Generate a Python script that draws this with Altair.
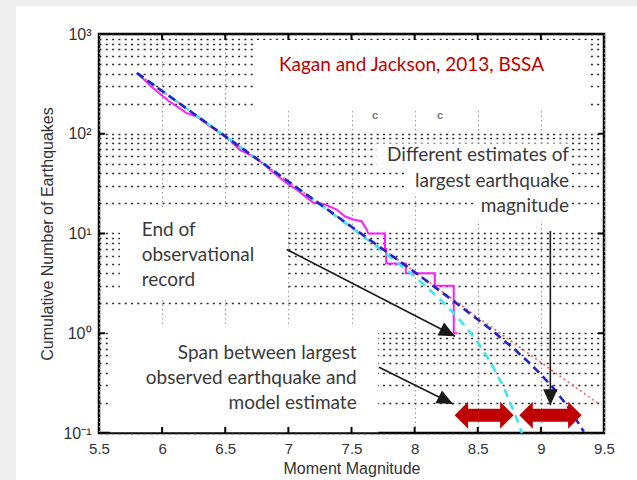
import altair as alt
import pandas as pd

# ---------------- data ----------------
# observed cumulative number of earthquakes (magenta step curve)
obs_mag = [5.80, 5.93, 6.05, 6.195, 6.274, 6.36, 6.458, 6.54, 6.617, 6.722,
           6.80, 6.90, 6.987, 7.066, 7.197, 7.29, 7.383, 7.45, 7.514, 7.58,
           7.62, 7.633, 7.765, 7.765, 7.775, 7.775, 7.93, 7.93, 8.16, 8.16,
           8.31, 8.31, 8.34]
obs_num = [407, 286, 214, 161, 149, 123, 102, 85, 69, 59,
           50, 39, 32, 27.5, 20.3, 19.5, 17.4, 14.8, 13.8, 13.3,
           11, 10, 10, 7, 7, 5, 5, 4, 4, 3,
           3, 1, 1]

# plain Gutenberg-Richter (red dotted)
gr_mag = [5.8, 6.5, 7.0, 7.5, 8.0, 8.5, 9.0, 9.46]
gr_num = [407, 94.4, 33.2, 11.7, 4.12, 1.45, 0.51, 0.195]

# tapered GR, high corner (blue dashed)
blue_mag = [5.8, 6.5, 7.0, 7.5, 8.0, 8.3, 8.6, 8.8, 8.9, 9.0, 9.1, 9.2, 9.25, 9.34]
blue_num = [407, 94.4, 33.2, 11.7, 4.11, 2.14, 1.10, 0.674, 0.516, 0.387, 0.281, 0.194, 0.157, 0.103]

# tapered GR, low corner (cyan dashed)
cyan_mag = [5.8, 6.5, 7.0, 7.5, 7.8, 8.0, 8.2, 8.3, 8.4, 8.5, 8.6, 8.7, 8.8, 8.85]
cyan_num = [407, 94.4, 33.2, 11.5, 5.93, 3.72, 2.20, 1.64, 1.18, 0.81, 0.515, 0.298, 0.149, 0.100]

# axes
x_ticks = [5.5, 6.0, 6.5, 7.0, 7.5, 8.0, 8.5, 9.0, 9.5]
y_major = [0.1, 1, 10, 100, 1000]
y_grid = [round(m * 10 ** k, 6) for k in (-1, 0, 1, 2) for m in range(1, 10)] + [1000]

# black annotation arrows (start -> tip), in data units
arrow_m0 = [6.987, 7.718, 9.075]
arrow_n0 = [6.92, 0.457, 10.6]
arrow_m1 = [8.32, 8.304, 9.075]
arrow_n1 = [0.933, 0.195, 0.19]
arrow_angle = [27, 27, 90]

# red double arrows (span between estimates)
span_left = [8.317, 8.829]
span_right = [8.784, 9.323]
span_level = 0.151

# white boxes behind the slide's text boxes
mask_m0 = [6.751, 7.700, 7.916, 8.470, 5.666, 5.587]
mask_m1 = [9.389, 9.239, 9.239, 9.239, 6.973, 7.710]
mask_n0 = [871, 80.0, 45.7, 25.1, 18.2, 1.148]
mask_n1 = [174, 45.7, 25.1, 13.6, 2.19, 0.102]

title_text = ["Kagan and Jackson, 2013, BSSA"]
diff_text = ["Different estimates of", "largest earthquake", "magnitude"]
diff_n = [52.8, 29.0, 16.5]
end_text = ["End of", "observational", "record"]
end_n = [9.40, 5.28, 2.97]
span_text = ["Span between largest", "observed earthquake and", "model estimate"]
span_n = [0.55, 0.309, 0.174]

# ---------------- chart ----------------
W, H = 505, 399
xscale = alt.Scale(domain=[5.5, 9.5], nice=False, zero=False)
yscale = alt.Scale(type="log", domain=[0.1, 1000], nice=False)

label_expr = ("datum.value == 1000 ? '10³' : datum.value == 100 ? '10²' : "
              "datum.value == 10 ? '10¹' : datum.value == 1 ? '10⁰' : "
              "abs(datum.value - 0.1) < 1e-9 ? '10⁻¹' : ''")

xaxis = alt.Axis(values=x_ticks, format=".1~f", grid=True, gridColor="#9a9a9a",
                 gridDash=[1.5, 3], gridWidth=1, ticks=False, domain=False,
                 labelFont="Liberation Sans", labelFontSize=15, labelColor="#333",
                 labelPadding=8, title="Moment Magnitude", titleFont="Liberation Sans",
                 titleFontSize=16, titleFontWeight="normal", titleColor="#333",
                 titlePadding=4, labelFlush=False)
yaxis = alt.Axis(values=y_grid, labelExpr=label_expr, grid=True, gridColor="#2a2a2a",
                 gridDash=[2, 4.3], gridWidth=1.6, ticks=False, domain=False,
                 labelFont="Liberation Sans", labelFontSize=16, labelColor="#333",
                 labelPadding=8, labelOverlap=False, labelFlush=False,
                 title="Cumulative Number of Earthquakes", titleFont="Liberation Sans",
                 titleFontSize=16, titleFontWeight="normal", titleColor="#333",
                 titlePadding=7)


def X(f):
    return alt.X(f, type="quantitative", scale=xscale, axis=xaxis)


def Y(f):
    return alt.Y(f, type="quantitative", scale=yscale, axis=yaxis)


def curve(ms, ns):
    return pd.DataFrame({"m": ms, "n": ns, "i": list(range(len(ms)))})


# slide border (gray around the white panel)
border = pd.DataFrame({"k": [0]})
gray = "#efefef"
b_left = alt.Chart(border).mark_rect(color=gray).encode(
    x=alt.value(-99), x2=alt.value(-83), y=alt.value(-34), y2=alt.value(446))
b_top = alt.Chart(border).mark_rect(color=gray).encode(
    x=alt.value(-99), x2=alt.value(538), y=alt.value(-34), y2=alt.value(-28))

masks = alt.Chart(pd.DataFrame({"m": mask_m0, "m1": mask_m1, "n": mask_n0, "n1": mask_n1})
                  ).mark_rect(color="white").encode(x=X("m"), x2="m1", y=Y("n"), y2="n1")

obs = alt.Chart(curve(obs_mag, obs_num)).mark_line(color="#ff1eff", strokeWidth=2).encode(
    x=X("m"), y=Y("n"), order="i:Q")
red = alt.Chart(curve(gr_mag, gr_num)).mark_line(color="#f07070", strokeWidth=1.8,
                                                 strokeDash=[2, 3]).encode(
    x=X("m"), y=Y("n"), order="i:Q")
cyan = alt.Chart(curve(cyan_mag, cyan_num)).mark_line(color="#3de6f0", strokeWidth=2.6,
                                                      strokeDash=[8, 6]).encode(
    x=X("m"), y=Y("n"), order="i:Q")
blue = alt.Chart(curve(blue_mag, blue_num)).mark_line(color="#2323c8", strokeWidth=2.6,
                                                      strokeDash=[8, 5]).encode(
    x=X("m"), y=Y("n"), order="i:Q")

# tick marks (inward) on all four sides
inner_x = pd.DataFrame({"m": x_ticks[1:-1]})
inner_y = pd.DataFrame({"n": y_major[1:-1]})
tick_b = alt.Chart(inner_x).mark_rule(color="black", strokeWidth=2).encode(
    x=X("m"), y=alt.value(H), y2=alt.value(H - 6))
tick_t = alt.Chart(inner_x).mark_rule(color="black", strokeWidth=2).encode(
    x=X("m"), y=alt.value(0), y2=alt.value(6))
tick_l = alt.Chart(inner_y).mark_rule(color="black", strokeWidth=2).encode(
    y=Y("n"), x=alt.value(0), x2=alt.value(6))
tick_r = alt.Chart(inner_y).mark_rule(color="black", strokeWidth=2).encode(
    y=Y("n"), x=alt.value(W), x2=alt.value(W - 6))

# black arrows
arr = pd.DataFrame({"m": arrow_m0, "n": arrow_n0, "m1": arrow_m1, "n1": arrow_n1,
                    "a": arrow_angle})
arrow_lines = alt.Chart(arr).mark_rule(color="#1a1a1a", strokeWidth=1.6).encode(
    x=X("m"), y=Y("n"), x2="m1", y2="n1")
arrow_heads = alt.Chart(arr).mark_point(shape="M 0 0 L -1 -0.45 L -1 0.45 Z", filled=True,
                                        color="#1a1a1a", opacity=1, size=1024).encode(
    x=X("m1"), y=Y("n1"), angle=alt.Angle("a:Q", scale=None))

# red double arrows
head_len = 0.1
spans = pd.DataFrame({"l": span_left, "r": span_right,
                      "lb": [v + head_len for v in span_left],
                      "rb": [v - head_len for v in span_right],
                      "n": [span_level] * len(span_left)})
red_c = "#c00000"
span_body = alt.Chart(spans).mark_rule(color=red_c, strokeWidth=13, strokeCap="butt").encode(
    x=X("lb"), x2="rb", y=Y("n"))
span_lhead = alt.Chart(spans).mark_point(shape="M 0 0 L 1 -1 L 1 1 Z", filled=True,
                                         color=red_c, opacity=1, size=729).encode(
    x=X("l"), y=Y("n"))
span_rhead = alt.Chart(spans).mark_point(shape="M 0 0 L -1 -1 L -1 1 Z", filled=True,
                                         color=red_c, opacity=1, size=729).encode(
    x=X("r"), y=Y("n"))

# texts
txt_font = "Lato"
t_title = alt.Chart(pd.DataFrame({"m": [7.975], "n": [490], "t": title_text})).mark_text(
    font=txt_font, fontSize=19, color=red_c, align="center", baseline="middle").encode(
    x=X("m"), y=Y("n"), text="t:N")
t_diff = alt.Chart(pd.DataFrame({"m": [9.223] * 3, "n": diff_n, "t": diff_text})).mark_text(
    font=txt_font, fontSize=19, color="#3a3a3a", align="right", baseline="alphabetic").encode(
    x=X("m"), y=Y("n"), text="t:N")
t_end = alt.Chart(pd.DataFrame({"m": [5.838] * 3, "n": end_n, "t": end_text})).mark_text(
    font=txt_font, fontSize=19, color="#3a3a3a", align="left", baseline="alphabetic").encode(
    x=X("m"), y=Y("n"), text="t:N")
t_span = alt.Chart(pd.DataFrame({"m": [7.541] * 3, "n": span_n, "t": span_text})).mark_text(
    font=txt_font, fontSize=19, color="#3a3a3a", align="right", baseline="alphabetic").encode(
    x=X("m"), y=Y("n"), text="t:N")
t_c = alt.Chart(pd.DataFrame({"m": [7.686, 8.201], "n": [149, 149], "t": ["c", "c"]})).mark_text(
    font="Liberation Sans", fontSize=11, fontWeight="bold", color="#777",
    align="center", baseline="middle").encode(x=X("m"), y=Y("n"), text="t:N")

chart = alt.layer(
    b_left, b_top, masks, obs, red, cyan, blue,
    tick_b, tick_t, tick_l, tick_r,
    arrow_lines, arrow_heads, span_body, span_lhead, span_rhead,
    t_title, t_diff, t_end, t_span, t_c,
).properties(
    width=W, height=H,
    autosize=alt.AutoSizeParams(type="none"),
    padding={"left": 99, "top": 34, "right": 33, "bottom": 47},
    background="white",
).configure_view(stroke="black", strokeWidth=2.5)

chart.save("out.html", embed_options={"renderer": "svg", "actions": False})
